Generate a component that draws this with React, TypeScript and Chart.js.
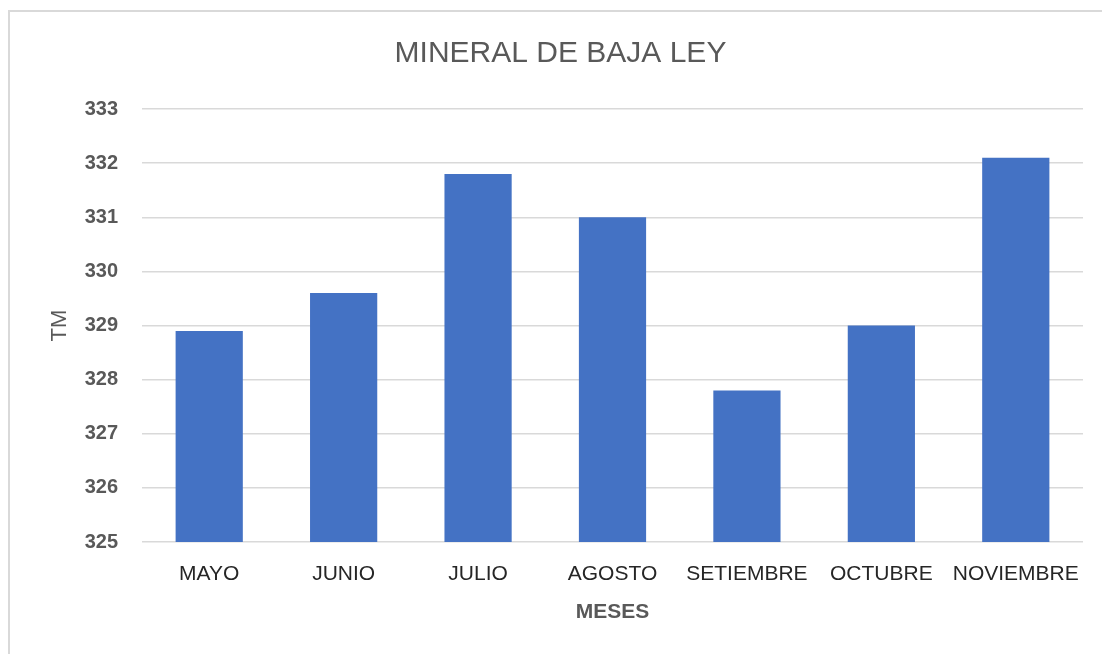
import React, { useEffect, useRef } from "react";
import { Chart, registerables } from "chart.js";

Chart.register(...registerables);

const TITLE = "MINERAL DE BAJA LEY";
const months = ["MAYO", "JUNIO", "JULIO", "AGOSTO", "SETIEMBRE", "OCTUBRE", "NOVIEMBRE"];
const tonnage = [328.9, 329.6, 331.8, 331.0, 327.8, 329.0, 332.1];
const yMin = 325;
const yMax = 333;
const yStep = 1;
const xTitle = "MESES";
const yTitle = "TM";

const FONT = "'Liberation Sans', Arial, sans-serif";

export default function App() {
  const ref = useRef<HTMLCanvasElement | null>(null);

  useEffect(() => {
    if (!ref.current) return;
    const chart = new Chart(ref.current, {
      type: "bar",
      data: {
        labels: months,
        datasets: [
          {
            label: yTitle,
            data: tonnage,
            backgroundColor: "#4472C4",
            borderWidth: 0,
            barPercentage: 0.5,
            categoryPercentage: 1,
          },
        ],
      },
      options: {
        responsive: false,
        animation: false,
        layout: { padding: { left: 38, right: 19, top: 0, bottom: 0 } },
        plugins: {
          legend: { display: false },
          tooltip: { enabled: false },
          title: {
            display: true,
            text: TITLE,
            color: "#595959",
            font: { family: FONT, size: 30, weight: "normal" },
            padding: { top: 36, bottom: 37 },
          },
        },
        scales: {
          x: {
            grid: { display: false, drawTicks: false },
            border: { display: false },
            ticks: {
              color: "#262626",
              font: { family: FONT, size: 21 },
              padding: 20,
              maxRotation: 0,
              autoSkip: false,
            },
            title: {
              display: true,
              text: xTitle,
              color: "#595959",
              font: { family: FONT, size: 21, weight: "bold" },
              padding: { top: 0, bottom: 29 },
            },
            afterFit: (s: any) => {
              s.height = 112;
            },
          },
          y: {
            min: yMin,
            max: yMax,
            grid: { color: "#d9d9d9", lineWidth: 1.5, drawTicks: false },
            border: { display: false },
            ticks: {
              stepSize: yStep,
              color: "#595959",
              font: { family: FONT, size: 20, weight: "bold" },
              padding: 24,
            },
            title: {
              display: true,
              text: yTitle,
              color: "#595959",
              font: { family: FONT, size: 22, weight: "normal" },
              padding: { top: 9, bottom: 0 },
            },
            afterFit: (s: any) => {
              s.width = 104;
            },
          },
        },
      },
    });
    return () => chart.destroy();
  }, []);

  return (
    <div style={{ position: "fixed", left: 0, top: 0, width: 1102, height: 654, background: "#fff" }}>
      <div style={{ position: "absolute", left: 7.5, top: 9.5, width: 2, height: 645, background: "#d9d9d9" }} />
      <div style={{ position: "absolute", left: 7.5, top: 9.5, width: 1095, height: 2, background: "#d9d9d9" }} />
      <canvas ref={ref} width={1102} height={654} style={{ position: "absolute", left: 0, top: 0, display: "block" }} />
    </div>
  );
}
